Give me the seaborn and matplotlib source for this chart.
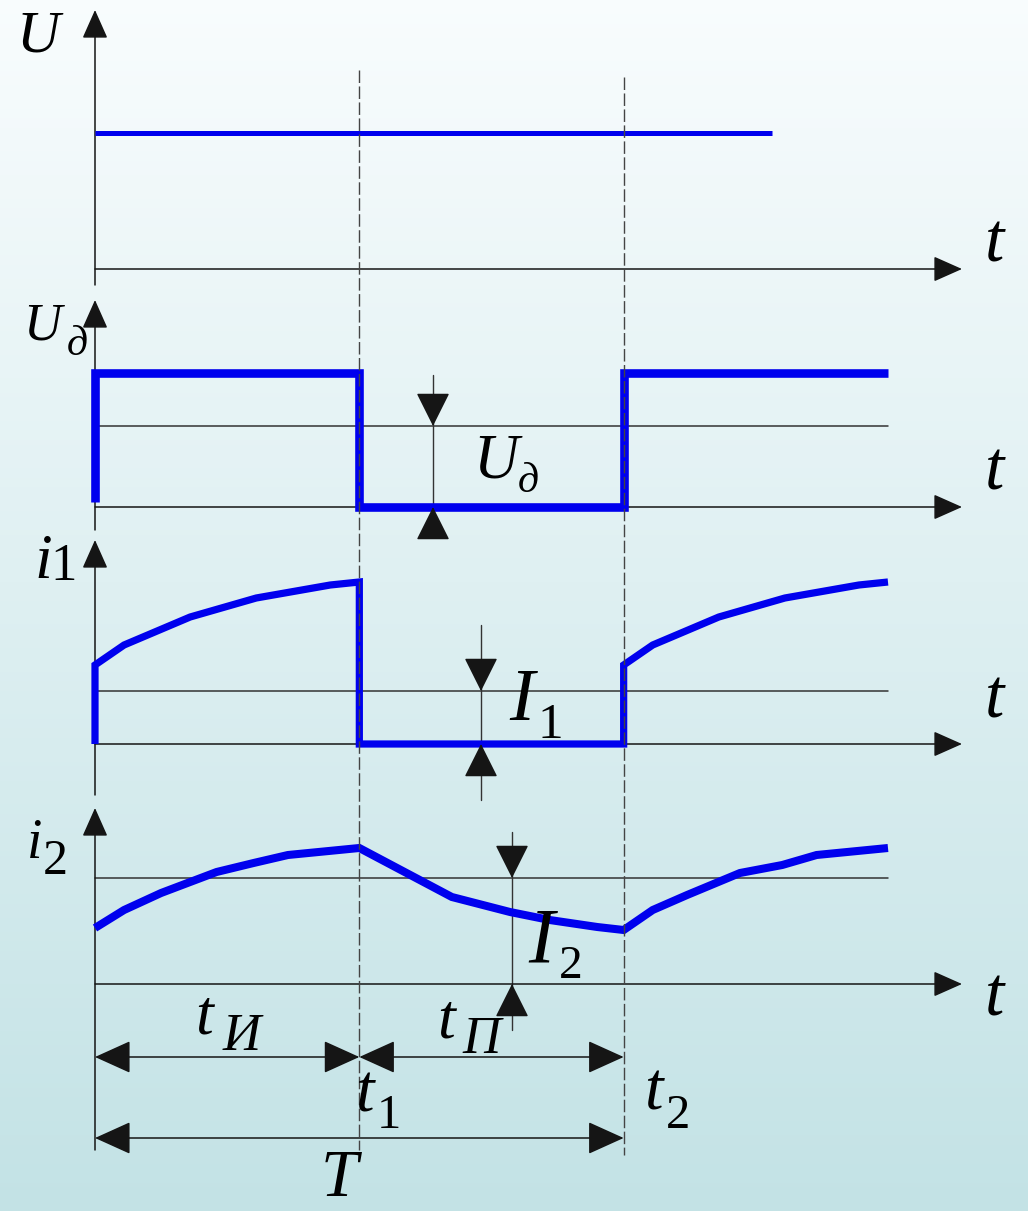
import numpy as np
import matplotlib
matplotlib.use("Agg")
import matplotlib.pyplot as plt
import seaborn as sns

# ---- waveform data (time in units of the pulse length: t1 = 1, t2 = 2) ----
supply_t = [0.0, 2.56]
supply_v = [136, 136]

ud_t = [0, 0, 1, 1, 2, 2, 3]
ud_v = [5, 134, 134, 0, 0, 134, 134]
ud_mean = 81

i1_t = [0, 0, 0.11, 0.36, 0.61, 0.89, 1.0, 1.0, 2.0, 2.0, 2.11, 2.36, 2.61, 2.89, 3.0]
i1_v = [0, 79, 99, 127, 146, 159, 162, 0, 0, 79, 99, 127, 146, 159, 162]
i1_mean = 53

i2_t = [0.0, 0.11, 0.25, 0.46, 0.60, 0.73, 1.0,
        1.35, 1.57, 1.72, 1.90, 2.0,
        2.11, 2.24, 2.44, 2.60, 2.73, 3.0]
i2_v = [56, 74, 91, 112, 121, 129, 136,
        87, 72, 64, 57, 54,
        74, 89, 111, 119, 129, 136]
i2_mean = 106

t1, t2 = 1.0, 2.0
t_axis_end = 3.28
level_end = 3.0

# ---- layout ----
W, H = 1028, 1211
X0 = 95.0
PX = 264.33
BLUE = "#0000ee"
INK = "#151515"
SERIF = ["Liberation Serif", "DejaVu Serif"]

sns.set_style("white")
plt.rcParams["font.family"] = SERIF

fig = plt.figure(figsize=(W / 100, H / 100), dpi=100)

# background gradient
ax_bg = fig.add_axes([0, 0, 1, 1], zorder=-5)
top_c = np.array([0.975, 0.990, 0.994])
bot_c = np.array([0.765, 0.888, 0.900])
g = np.linspace(0, 1, 256)[:, None, None]
grad = top_c * (1 - g) + bot_c * g
ax_bg.imshow(np.repeat(grad, 2, axis=1), aspect="auto", extent=[0, 1, 0, 1], origin="upper")
ax_bg.axis("off")


def t2px(t):
    return X0 + t * PX


def make_panel(top, bottom, base):
    ax = fig.add_axes([0, 1 - bottom / H, 1, (bottom - top) / H])
    ax.set_xlim(-X0 / PX, (W - X0) / PX)
    ax.set_ylim(base - bottom, base - top)
    ax.axis("off")
    ax.patch.set_alpha(0)
    return ax


AX_ARROW = dict(arrowstyle="-|>,head_length=0.9,head_width=0.4", mutation_scale=20,
                lw=1.1, color=INK, shrinkA=0, shrinkB=0)
DIM_HEAD = dict(arrowstyle="-|>,head_length=1.08,head_width=0.54", mutation_scale=20,
                lw=1.0, color=INK, shrinkA=0, shrinkB=0)
SPAN_ARROW = dict(arrowstyle="<|-|>,head_length=1.15,head_width=0.52", mutation_scale=20,
                  lw=1.1, color=INK, shrinkA=0, shrinkB=0)


def axes_arrows(ax, v_bottom, v_top):
    ax.annotate("", xy=(0, v_top), xytext=(0, v_bottom), arrowprops=AX_ARROW)
    ax.annotate("", xy=(t_axis_end, 0), xytext=(0, 0), arrowprops=AX_ARROW)


def level_line(ax, level):
    ax.plot([0, level_end], [level, level], color="#333333", lw=1.1, zorder=1)


def dim_arrow(ax, t, v_top, v_bot, level, head=30):
    ax.plot([t, t], [v_top, v_bot], color="#333333", lw=1.0, zorder=1)
    ax.annotate("", xy=(t, level), xytext=(t, level + head), arrowprops=DIM_HEAD)
    ax.annotate("", xy=(t, 0), xytext=(t, -head), arrowprops=DIM_HEAD)


def wave(ax, x, y, lw):
    sns.lineplot(x=x, y=y, ax=ax, sort=False, estimator=None, color=BLUE, lw=lw,
                 solid_joinstyle="miter", solid_capstyle="butt", zorder=3)


# panel 1: supply voltage U
ax1 = make_panel(0, 292, 269)
axes_arrows(ax1, -16, 259)
wave(ax1, supply_t, supply_v, 3.6)

# panel 2: U_д
ax2 = make_panel(292, 535, 507)
axes_arrows(ax2, -23, 207)
level_line(ax2, ud_mean)
wave(ax2, ud_t, ud_v, 6.2)
dim_arrow(ax2, (433 - X0) / PX, 132, -48, ud_mean)

# panel 3: i1
ax3 = make_panel(535, 802, 744)
axes_arrows(ax3, -51, 204)
level_line(ax3, i1_mean)
wave(ax3, i1_t, i1_v, 5.2)
dim_arrow(ax3, (481 - X0) / PX, 119, -56, i1_mean)

# panel 4: i2 with the time spans underneath
ax4 = make_panel(802, 1211, 984)
axes_arrows(ax4, -166, 176)
level_line(ax4, i2_mean)
wave(ax4, i2_t, i2_v, 5.8)
dim_arrow(ax4, (512 - X0) / PX, 152, -46, i2_mean)
ax4.annotate("", xy=(t1, -73), xytext=(0, -73), arrowprops=SPAN_ARROW)
ax4.annotate("", xy=(t2, -73), xytext=(t1, -73), arrowprops=SPAN_ARROW)
ax4.annotate("", xy=(t2, -154), xytext=(0, -154), arrowprops=SPAN_ARROW)

# overlay in pixel coordinates: dashed time markers and labels
ax_px = fig.add_axes([0, 0, 1, 1])
ax_px.set_xlim(0, W)
ax_px.set_ylim(H, 0)
ax_px.axis("off")
ax_px.patch.set_alpha(0)
ax_px.plot([t2px(t1)] * 2, [70, 1150], color="#444444", lw=1.0, dashes=(9, 2.5))
ax_px.plot([t2px(t2)] * 2, [77, 1155], color="#444444", lw=1.0, dashes=(9, 2.5))


def label(x, y, s, size, italic=True):
    ax_px.text(x, y, s, fontsize=size, fontstyle="italic" if italic else "normal",
               family=SERIF, ha="left", va="baseline", color="black")


# axis names
label(17, 52, "U", 43)
label(23, 340, "U", 38)
label(67, 355, "д", 30)
label(34, 578, "i", 46)
label(50, 580, "1", 38, italic=False)
label(27, 858, "i", 40)
label(43, 874, "2", 36, italic=False)
for yb in (262, 490, 717, 1015):
    label(985, yb, "t", 50)

# magnitudes
label(473, 478, "U", 45)
label(518, 492, "д", 30)
label(509, 720, "I", 54)
label(537, 738, "1", 37, italic=False)
label(528, 962, "I", 56)
label(559, 978, "2", 34, italic=False)

# time spans
label(195, 1033, "t", 46)
label(223, 1050, "И", 38)
label(437, 1037, "t", 46)
label(462, 1053, "П", 38)
label(355, 1112, "t", 48)
label(377, 1128, "1", 35, italic=False)
label(644, 1110, "t", 48)
label(666, 1128, "2", 35, italic=False)
label(321, 1196, "T", 48)

fig.savefig("out.png", dpi=100)
